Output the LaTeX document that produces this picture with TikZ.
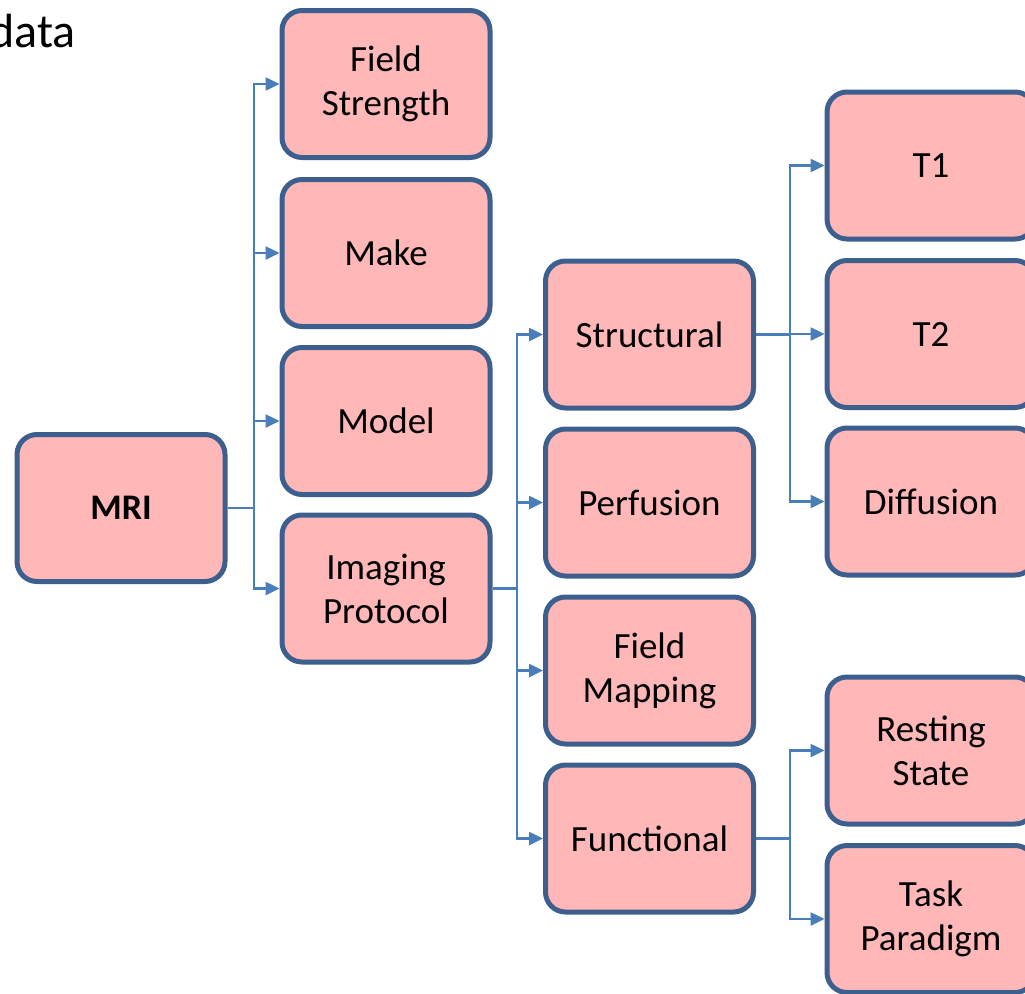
\documentclass[tikz,border=0pt]{standalone}
\usepackage{fontspec}
\setmainfont{Carlito}
\usetikzlibrary{arrows.meta}
\definecolor{boxfill}{HTML}{FFB7B7}
\definecolor{boxdraw}{HTML}{3D5F8E}
\definecolor{linkblue}{HTML}{4A7EBB}
\begin{document}
\begin{tikzpicture}[x=1pt,y=-1pt,
  box/.style={draw=boxdraw,fill=boxfill,line width=5pt,rounded corners=20pt,
    minimum width=208pt,minimum height=147pt,inner sep=0pt,align=center,
    font=\fontsize{37}{44}\selectfont},
  link/.style={draw=linkblue,line width=2.5pt,
    -{Triangle[length=14pt,width=13pt]}},
  plain/.style={draw=linkblue,line width=2.5pt}]
\useasboundingbox (0,0) rectangle (1025,993);
\node[anchor=base east,inner sep=0pt,font=\fontsize{48}{52}\selectfont] (title) at (76,47) {data};
\node[box,font=\fontsize{36}{42}\selectfont\bfseries] (mri) at (121,508) {MRI};
\node[box] (fs) at (386,84) {Field\\Strength};
\node[box] (make) at (386,253) {Make};
\node[box] (model) at (386,421) {Model};
\node[box] (ip) at (386,588.5) {Imaging\\Protocol};
\node[box] (str) at (649.5,334.5) {Structural};
\node[box] (perf) at (649.5,502.5) {Perfusion};
\node[box] (fm) at (649.5,670.5) {Field\\Mapping};
\node[box] (func) at (649.5,838.5) {Functional};
\node[box] (t1) at (931,165.5) {T1};
\node[box] (t2) at (931,334) {T2};
\node[box] (diff) at (931,501.5) {Diffusion};
\node[box] (rs) at (931,750.5) {Resting\\State};
\node[box] (tp) at (931,919) {Task\\Paradigm};
\coordinate (j1) at (254,508);
\coordinate (j2) at (517,588.5);
\coordinate (j3) at (790,334.5);
\coordinate (j4) at (790,838.5);
\draw[plain] (mri.east) -- (j1);
\draw[link] (j1) |- (fs.west);
\draw[link] (j1) |- (make.west);
\draw[link] (j1) |- (model.west);
\draw[link] (j1) |- (ip.west);
\draw[plain] (ip.east) -- (j2);
\draw[link] (j2) |- (str.west);
\draw[link] (j2) |- (perf.west);
\draw[link] (j2) |- (fm.west);
\draw[link] (j2) |- (func.west);
\draw[plain] (str.east) -- (j3);
\draw[link] (j3) |- (t1.west);
\draw[link] (j3) |- (t2.west);
\draw[link] (j3) |- (diff.west);
\draw[plain] (func.east) -- (j4);
\draw[link] (j4) |- (rs.west);
\draw[link] (j4) |- (tp.west);
\end{tikzpicture}
\end{document}
